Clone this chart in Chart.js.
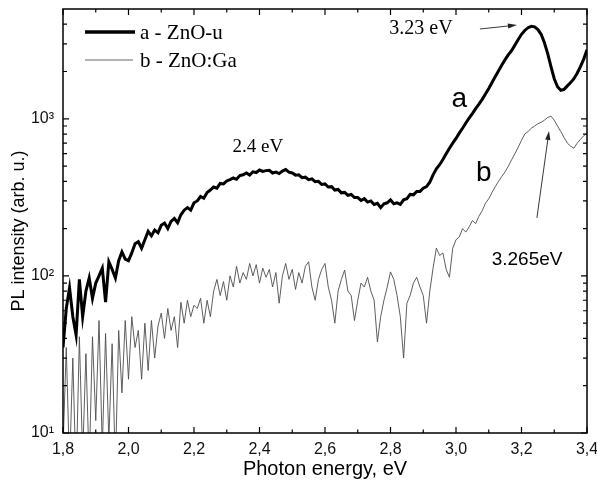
<!DOCTYPE html>
<html>
<head>
<meta charset="utf-8">
<script src="https://cdn.jsdelivr.net/npm/chart.js@4/dist/chart.umd.min.js"></script>
<style>
html,body{margin:0;padding:0;background:#fff;}
#wrap{width:597px;height:484px;position:relative;}
</style>
</head>
<body>
<div id="wrap"><canvas id="c" width="597" height="484"></canvas></div>
<script>
// Photon energy grid (eV), step 0.01 from 1.80 to 3.40
const energy = [];
for (let i = 0; i <= 160; i++) energy.push(+(1.8 + i * 0.01).toFixed(2));

// a - ZnO-u (thick black)
const seriesA = [
  35,62,84,55,42,95,55,80,97,72,
  90,100,112,68,123,110,97,125,142,128,
  125,140,160,165,150,170,192,180,196,188,
  210,217,200,222,232,218,245,262,272,262,
  292,300,320,312,340,352,368,362,388,385,
  402,410,420,412,435,440,452,438,460,455,
  472,462,468,470,452,458,448,465,475,458,
  452,438,440,422,425,410,415,398,400,382,
  385,368,370,352,355,338,340,326,330,315,
  315,302,310,295,300,285,290,272,288,292,
  305,288,292,285,305,310,330,328,345,345,
  362,370,395,440,480,510,550,600,650,700,
  750,810,870,940,1010,1080,1160,1240,1330,1440,
  1560,1700,1860,2020,2200,2380,2560,2720,2950,3200,
  3450,3650,3800,3880,3850,3700,3450,3050,2600,2150,
  1800,1600,1520,1540,1620,1700,1800,1950,2150,2400,
  2750
];

// b - ZnO:Ga (thin grey)
const seriesB = [
  8,35,6,30,5,41,7,32,6,41,
  12,52,8,43,9,37,6,45,18,52,
  22,55,35,45,22,50,25,52,30,48,
  58,40,62,45,55,35,68,50,70,55,
  65,62,72,50,70,55,80,95,75,92,
  70,100,85,115,90,105,95,120,100,118,
  90,112,98,110,85,105,67,100,120,95,
  110,82,105,90,115,123,85,70,95,110,
  120,85,70,50,80,95,109,80,75,52,
  70,90,85,98,80,70,38,55,70,85,
  106,95,75,55,30,67,75,90,98,85,
  75,50,80,112,150,135,140,110,98,150,
  170,177,200,190,205,225,215,240,260,290,
  310,340,370,400,430,460,500,550,600,660,
  730,800,830,870,900,930,950,980,1020,1040,
  980,900,830,760,700,670,650,700,740,780,
  810
];

const xTickValues = [1.8,2.0,2.2,2.4,2.6,2.8,3.0,3.2,3.4];
const xMinorValues = [1.9,2.1,2.3,2.5,2.7,2.9,3.1,3.3];
const yTickValues = [10,100,1000];
const yTickLabels = ['10\u00B9','10\u00B2','10\u00B3'];
const yMinorValues = [20,30,40,50,60,70,80,90,200,300,400,500,600,700,800,900,2000,3000,4000];
const legendLabels = ['a - ZnO-u','b - ZnO:Ga'];
const xTitle = 'Photon energy, eV';
const yTitle = 'PL intensity (arb. u.)';

// annotations in data coordinates
const notes = [
  {text:'2.4 eV', x:2.395, y:661, font:'19px "Liberation Serif", "Times New Roman", serif'},
  {text:'3.23 eV', x:2.893, y:3730, font:'20px "Liberation Serif", "Times New Roman", serif'},
  {text:'a', x:3.01, y:1337, font:'28px "Liberation Sans", Arial, sans-serif'},
  {text:'b', x:3.085, y:452, font:'28px "Liberation Sans", Arial, sans-serif'},
  {text:'3.265eV', x:3.217, y:126, font:'19px "Liberation Sans", Arial, sans-serif'}
];
const arrows = [
  {x0:3.073, y0:3730, x1:3.186, y1:3950},
  {x0:3.247, y0:234, x1:3.284, y1:836}
];

const SANS = '"Liberation Sans", Arial, sans-serif';

const framePlugin = {
  id:'frame',
  afterDatasetsDraw(chart){
    const ctx = chart.ctx, a = chart.chartArea;
    const xs = chart.scales.x, ys = chart.scales.y;
    ctx.save();
    ctx.strokeStyle = '#000';
    ctx.lineWidth = 1.5;
    ctx.strokeRect(a.left, a.top, a.right - a.left, a.bottom - a.top);
    ctx.lineWidth = 1.2;
    ctx.beginPath();
    const tick = (vals, len, axis) => {
      vals.forEach(v => {
        if (axis === 'x') {
          const p = xs.getPixelForValue(v);
          ctx.moveTo(p, a.bottom); ctx.lineTo(p, a.bottom - len);
          ctx.moveTo(p, a.top); ctx.lineTo(p, a.top + len);
        } else {
          const p = ys.getPixelForValue(v);
          ctx.moveTo(a.left, p); ctx.lineTo(a.left + len, p);
          ctx.moveTo(a.right, p); ctx.lineTo(a.right - len, p);
        }
      });
    };
    tick(xTickValues, 6, 'x');
    tick(xMinorValues, 3.5, 'x');
    tick(yTickValues, 6, 'y');
    tick(yMinorValues, 4, 'y');
    ctx.stroke();

    // axis titles
    ctx.fillStyle = '#000';
    ctx.textAlign = 'center';
    ctx.textBaseline = 'middle';
    ctx.font = '20px ' + SANS;
    ctx.fillText(xTitle, (a.left + a.right) / 2, 469);
    ctx.save();
    ctx.translate(19, 231);
    ctx.rotate(-Math.PI / 2);
    ctx.font = '18px ' + SANS;
    ctx.fillText(yTitle, 0, 0);
    ctx.restore();

    // annotations
    notes.forEach(n => {
      ctx.font = n.font;
      ctx.fillText(n.text, xs.getPixelForValue(n.x), ys.getPixelForValue(n.y));
    });
    ctx.lineWidth = 0.9;
    ctx.strokeStyle = '#222';
    ctx.fillStyle = '#222';
    arrows.forEach(ar => {
      const x0 = xs.getPixelForValue(ar.x0), y0 = ys.getPixelForValue(ar.y0);
      const x1 = xs.getPixelForValue(ar.x1), y1 = ys.getPixelForValue(ar.y1);
      const ang = Math.atan2(y1 - y0, x1 - x0);
      const hl = 9, hw = 2.6;
      ctx.beginPath();
      ctx.moveTo(x0, y0);
      ctx.lineTo(x1 - hl * Math.cos(ang), y1 - hl * Math.sin(ang));
      ctx.stroke();
      ctx.beginPath();
      ctx.moveTo(x1, y1);
      ctx.lineTo(x1 - hl * Math.cos(ang) + hw * Math.sin(ang), y1 - hl * Math.sin(ang) - hw * Math.cos(ang));
      ctx.lineTo(x1 - hl * Math.cos(ang) - hw * Math.sin(ang), y1 - hl * Math.sin(ang) + hw * Math.cos(ang));
      ctx.closePath();
      ctx.fill();
    });

    // legend
    const lx = a.left + 22, ly1 = a.top + 23, ly2 = a.top + 51;
    ctx.strokeStyle = '#000';
    ctx.lineWidth = 3.5;
    ctx.beginPath(); ctx.moveTo(lx, ly1); ctx.lineTo(lx + 50, ly1); ctx.stroke();
    ctx.strokeStyle = '#666';
    ctx.lineWidth = 1;
    ctx.beginPath(); ctx.moveTo(lx, ly2); ctx.lineTo(lx + 48, ly2); ctx.stroke();
    ctx.fillStyle = '#000';
    ctx.textAlign = 'left';
    ctx.font = '21px "Liberation Serif", "Times New Roman", serif';
    ctx.fillText(legendLabels[0], lx + 55, ly1 + 1);
    ctx.fillText(legendLabels[1], lx + 55, ly2 + 1);
    ctx.restore();
  }
};

function zeroPad(s){ s.paddingTop = 0; s.paddingBottom = 0; s.paddingLeft = 0; s.paddingRight = 0; }

new Chart(document.getElementById('c'), {
  type:'line',
  data:{
    datasets:[
      {label:legendLabels[0], data: energy.map((e,i)=>({x:e, y:seriesA[i]})),
       borderColor:'#000', borderWidth:3, pointRadius:0, tension:0, fill:false},
      {label:legendLabels[1], data: energy.map((e,i)=>({x:e, y:seriesB[i]})),
       borderColor:'#4d4d4d', borderWidth:0.9, pointRadius:0, tension:0, fill:false}
    ]
  },
  options:{
    responsive:false,
    animation:false,
    devicePixelRatio:1,
    layout:{padding:{left:0, right:10, top:9, bottom:0}},
    plugins:{legend:{display:false}, tooltip:{enabled:false}},
    scales:{
      x:{
        type:'linear', min:1.8, max:3.4,
        grid:{display:false, drawTicks:false}, border:{display:false},
        afterBuildTicks(s){ s.ticks = xTickValues.map(v=>({value:v})); },
        afterFit(s){ s.height = 51; zeroPad(s); },
        ticks:{
          padding:7, color:'#111', maxRotation:0, autoSkip:false,
          font:{family:SANS, size:16},
          callback:(v)=> Number(v).toFixed(1).replace('.', ',')
        },
        title:{display:false}
      },
      y:{
        type:'logarithmic', min:10, max:5000,
        grid:{display:false, drawTicks:false}, border:{display:false},
        afterBuildTicks(s){ s.ticks = yTickValues.map(v=>({value:v})); },
        afterFit(s){ s.width = 63; zeroPad(s); },
        ticks:{
          padding:9, color:'#111', autoSkip:false,
          font:{family:SANS, size:16},
          callback:(v)=>{ const k = yTickValues.indexOf(v); return k>=0 ? yTickLabels[k] : ''; }
        },
        title:{display:false}
      }
    }
  },
  plugins:[framePlugin]
});
</script>
</body>
</html>
